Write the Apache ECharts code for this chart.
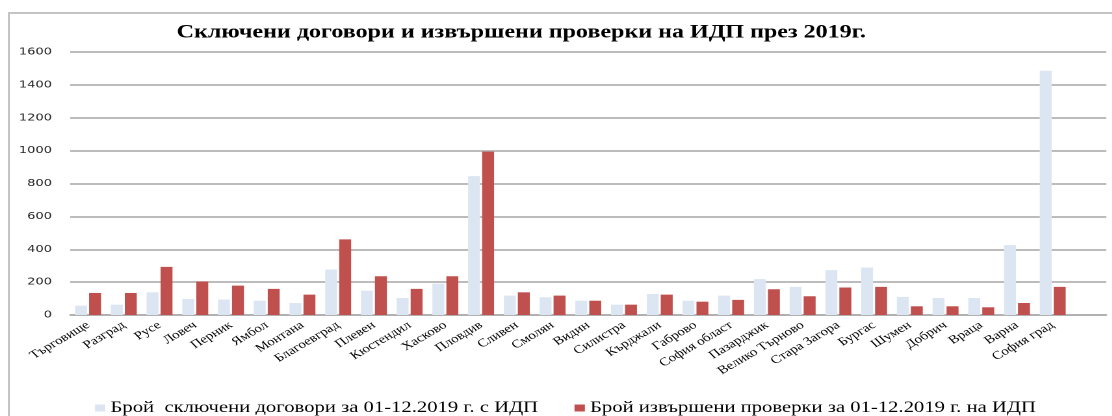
<!DOCTYPE html>
<html>
<head>
<meta charset="utf-8">
<script src="https://cdn.jsdelivr.net/npm/echarts@6/dist/echarts.min.js"></script>
<style>
  html, body { margin: 0; padding: 0; background: #fff; }
  #wrap { position: relative; width: 1112px; height: 416px; overflow: hidden; }
  #frame { position: absolute; left: 8px; top: 12px; width: 1200px; height: 500px;
           border-left: 2px solid #c4c4c4; border-top: 2px solid #c4c4c4; }
  /* оригиналът е разтеглен хоризонтално, затова и тук */
  #chart { position: absolute; left: 0; top: 0; width: 856px; height: 416px;
           transform: scaleX(1.3); transform-origin: 0 0; }
</style>
</head>
<body>
<div id="wrap">
  <div id="frame"></div>
  <div id="chart"></div>
</div>
<script>
// области (последната празна колона е свободното място вдясно)
var regions = ['Търговище', 'Разград', 'Русе', 'Ловеч', 'Перник', 'Ямбол', 'Монтана',
  'Благоевград', 'Плевен', 'Кюстендил', 'Хасково', 'Пловдив', 'Сливен', 'Смолян',
  'Видин', 'Силистра', 'Кърджали', 'Габрово', 'София област', 'Пазарджик',
  'Велико Търново', 'Стара Загора', 'Бургас', 'Шумен', 'Добрич', 'Враца', 'Варна',
  'София град', ''];

// сключени договори
var contracts = [57, 63, 138, 98, 94, 87, 73, 277, 148, 104, 191, 845, 118, 108,
  87, 63, 128, 87, 118, 218, 171, 273, 289, 110, 104, 104, 425, 1486, null];

// извършени проверки
var checks = [134, 134, 293, 204, 179, 159, 124, 460, 236, 159, 236, 994, 138, 118,
  87, 63, 124, 81, 92, 157, 114, 167, 171, 53, 53, 47, 73, 171, null];

var yTicks = [0, 200, 400, 600, 800, 1000, 1200, 1400, 1600];

var nameContracts = 'Брой  сключени договори за 01-12.2019 г. с ИДП';
var nameChecks = 'Брой извършени проверки за 01-12.2019 г. на ИДП';

var myChart = echarts.init(document.getElementById('chart'), null, { devicePixelRatio: 2 });
var option = {
  animation: false,
  title: {
    text: 'Сключени договори и извършени проверки на ИДП през 2019г.',
    left: 396,
    textAlign: 'center',
    top: 18,
    textStyle: { fontFamily: 'Liberation Serif', fontSize: 18.5, fontWeight: 'bold', color: '#000' }
  },
  legend: {
    left: 68,
    top: 395,
    itemWidth: 8,
    itemHeight: 7,
    itemGap: 28,
    icon: 'rect',
    textStyle: { fontFamily: 'Liberation Serif', fontSize: 15.9, color: '#000', padding: [0, 0, 0, -1] },
    data: [nameContracts, nameChecks]
  },
  grid: { left: 54, right: 5, top: 52, bottom: 101, containLabel: false },
  xAxis: {
    type: 'category',
    data: regions,
    axisLine: { lineStyle: { color: '#a6a6a6', width: 1.5 } },
    axisTick: { show: false },
    axisLabel: {
      rotate: 37,
      interval: 0,
      margin: 9,
      fontFamily: 'Liberation Serif',
      fontSize: 11.5,
      color: '#000'
    }
  },
  yAxis: {
    type: 'value',
    min: yTicks[0],
    max: yTicks[yTicks.length - 1],
    interval: 200,
    axisLine: { show: false },
    axisTick: { show: false },
    splitLine: { lineStyle: { color: '#a6a6a6', width: 1.5 } },
    axisLabel: {
      margin: 14,
      fontFamily: 'DejaVu Sans',
      fontSize: 10,
      color: '#262626',
      formatter: function (v) { return String(v); }
    }
  },
  series: [
    {
      name: nameContracts,
      type: 'bar',
      data: contracts,
      barWidth: 9.2,
      barGap: '17%',
      itemStyle: { color: '#dce6f2' }
    },
    {
      name: nameChecks,
      type: 'bar',
      data: checks,
      barWidth: 9.2,
      itemStyle: { color: '#c0504d' }
    }
  ]
};
option && myChart.setOption(option);
</script>
</body>
</html>
